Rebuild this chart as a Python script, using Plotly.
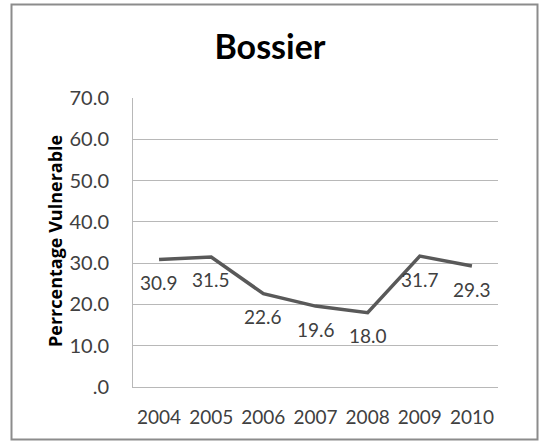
import plotly.graph_objects as go

years = ["2004", "2005", "2006", "2007", "2008", "2009", "2010"]
values = [30.9, 31.5, 22.6, 19.6, 18.0, 31.7, 29.3]
value_labels = ["30.9", "31.5", "22.6", "19.6", "18.0", "31.7", "29.3"]
y_tickvals = [0, 10, 20, 30, 40, 50, 60, 70]
y_ticktext = [".0", "10.0", "20.0", "30.0", "40.0", "50.0", "60.0", "70.0"]

FONT = "Lato, 'Open Sans', sans-serif"
W, H = 540, 442
ML, MR, MT, MB = 133, 42, 98, 55
PW = W - ML - MR
PH = H - MT - MB

fig = go.Figure()
fig.add_trace(go.Scatter(
    x=years, y=values, mode="lines",
    line=dict(color="#595959", width=3.5),
    hoverinfo="skip", showlegend=False,
))

annotations = []
for i, (v, t) in enumerate(zip(values, value_labels)):
    annotations.append(dict(
        x=i, y=v, text=t, showarrow=False, xref="x", yref="y",
        yshift=-23, font=dict(family=FONT, size=19, color="#404040"),
    ))

annotations.append(dict(
    x=(55 - ML) / PW, y=(387 - 241) / PH, xref="paper", yref="paper",
    text="<b>Perrcentage Vulnerable</b>", textangle=-90, showarrow=False,
    xanchor="center", yanchor="middle",
    font=dict(family="'Open Sans', sans-serif", size=18, color="#000000"),
))

def px_x(p):
    return (p - ML) / PW

def px_y(p):
    return (H - MB - p) / PH

fig.add_shape(type="rect", xref="paper", yref="paper",
              x0=px_x(11.5), x1=px_x(537.5), y0=px_y(439.5), y1=px_y(4.5),
              line=dict(color="#8c8c8c", width=2), fillcolor="rgba(0,0,0,0)",
              layer="below")

fig.update_layout(
    width=W, height=H,
    margin=dict(l=ML, r=MR, t=MT, b=MB),
    paper_bgcolor="white", plot_bgcolor="white",
    title=dict(text="<b>Bossier</b>", x=0.5, xref="container", xanchor="center",
               y=1 - 47 / H, yanchor="middle",
               font=dict(family=FONT, size=34, color="#000000")),
    annotations=annotations,
    xaxis=dict(
        type="category", range=[-0.5, 6.5],
        showgrid=False, showline=True, linecolor="#b8b8b8", linewidth=1,
        ticks="", ticklabelstandoff=13,
        tickfont=dict(family=FONT, size=19, color="#404040"),
        fixedrange=True,
    ),
    yaxis=dict(
        range=[0, 70], tickvals=y_tickvals, ticktext=y_ticktext,
        showgrid=True, gridcolor="#b8b8b8", gridwidth=1,
        showline=True, linecolor="#b8b8b8", linewidth=1,
        zeroline=False, ticks="", ticklabelstandoff=19,
        tickfont=dict(family=FONT, size=20, color="#404040"),
        fixedrange=True,
    ),
)

fig.write_html("out.html", config={"displayModeBar": False},
               post_script="document.body.style.margin='0';")
